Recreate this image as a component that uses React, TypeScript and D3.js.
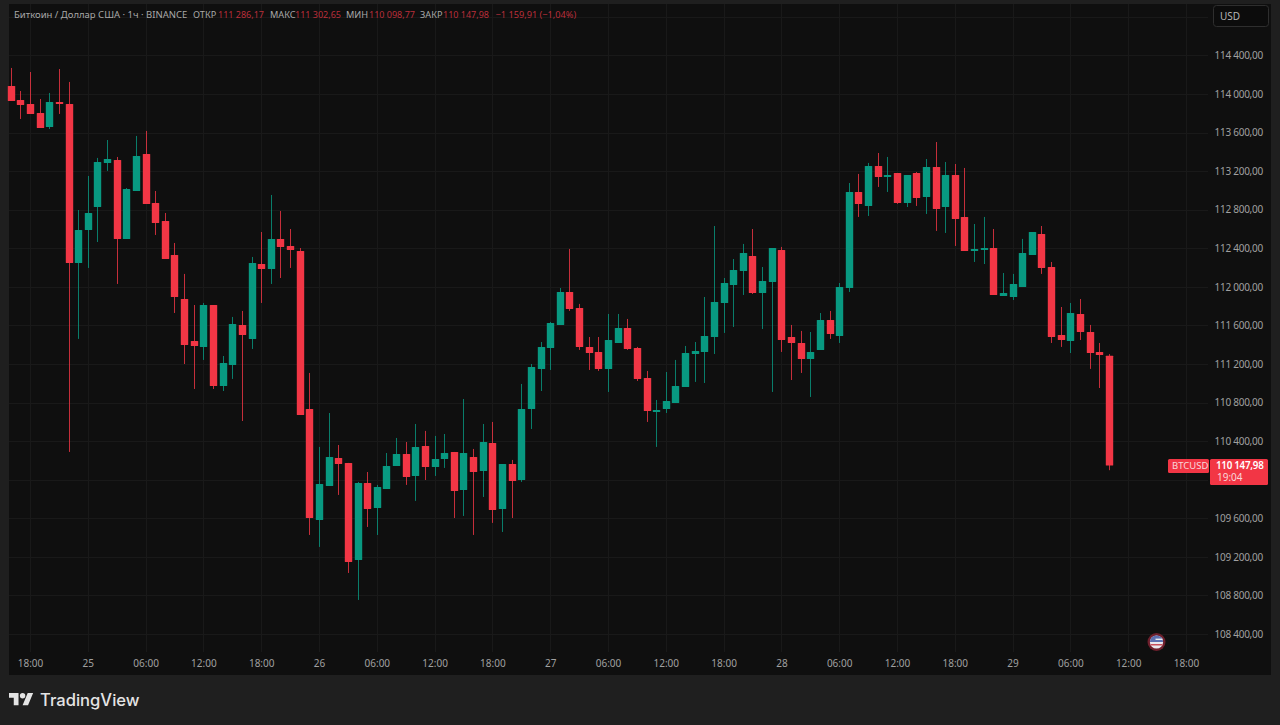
import React, { useEffect, useRef } from 'react';
import * as d3 from 'd3';

const opens = [
  114083, 113938, 113897, 113803, 113658, 113917, 113897, 112248, 112590, 112828,
  113285, 113316, 112497, 112994, 113378, 112870, 112683, 112331, 111874, 111439,
  111377, 111812, 110972, 111190, 111605, 111460, 112237, 112185, 112497, 112424,
  112372, 110734, 109583, 109935, 110226, 110174, 109168, 109966, 109707, 109904,
  110143, 110267, 110039, 110350, 110132, 110215, 110288, 109894, 110236, 110091,
  110381, 109697, 110163, 109997, 110734, 111149, 111366, 111605, 111947, 111781,
  111377, 111325, 111149, 111418, 111574, 111366, 111055, 110703, 110734, 110796,
  110962, 111304, 111325, 111480, 111833, 112019, 112165, 112320, 111937, 112051,
  112383, 111480, 111418, 111252, 111346, 111657, 111491, 111988, 112984, 112839,
  113254, 113140, 113181, 112870, 113181, 112932, 113243, 112828, 113160, 112725,
  112372, 112383, 112403, 111905, 111895, 111999, 112331, 112548, 112206, 111501,
  111439, 111719, 111532, 111325, 111286.17,
];
const highs = [
  114270, 114031, 114228, 113948, 114011, 114259, 114125, 112797, 113150, 113337,
  113523, 113347, 113025, 113565, 113617, 112994, 112766, 112455, 112134, 111812,
  111833, 111812, 111283, 111688, 111750, 112310, 112569, 112953, 112787, 112600,
  112403, 111107, 110340, 110692, 110360, 110174, 109977, 110080, 109946, 110277,
  110433, 110391, 110578, 110506, 110454, 110474, 110288, 110837, 110319, 110578,
  110599, 110163, 110205, 110993, 111200, 111428, 111636, 111988, 112393, 111823,
  111480, 111480, 111719, 111719, 111667, 111377, 111128, 110827, 111117, 111242,
  111387, 111428, 111895, 112631, 112092, 112289, 112445, 112600, 112206, 112403,
  112414, 111605, 111543, 111532, 111729, 111750, 112040, 113077, 113171, 113285,
  113388, 113347, 113181, 113160, 113191, 113326, 113502, 113295, 113274, 113233,
  112652, 112725, 112600, 112144, 112134, 112497, 112569, 112631, 112258, 111791,
  111833, 111874, 111605, 111418, 111302.65,
];
const lows = [
  113928, 113741, 113793, 113648, 113637, 113793, 110288, 111460, 112196, 112465,
  113202, 112030, 112497, 112994, 112860, 112538, 112289, 111729, 111200, 110941,
  111242, 110941, 110920, 111045, 110609, 111356, 111833, 112030, 112092, 112196,
  110671, 109427, 109303, 109935, 109842, 109033, 108753, 109510, 109427, 109904,
  110143, 109946, 109780, 109997, 110039, 110122, 109603, 109624, 109427, 109821,
  109552, 109458, 109603, 109977, 110526, 110920, 111138, 111605, 111750, 111346,
  111138, 111128, 110910, 111418, 111346, 111024, 110599, 110340, 110692, 110796,
  110962, 111014, 111003, 111304, 111522, 111584, 111916, 111926, 111563, 110910,
  111325, 111034, 111107, 110858, 111346, 111460, 111418, 111947, 112725, 112735,
  113036, 112984, 112860, 112828, 112839, 112756, 112580, 112559, 112424, 112372,
  112258, 112237, 111916, 111905, 111864, 111999, 112331, 112134, 111418, 111377,
  111314, 111449, 111149, 110951, 110098.77,
];
const closes = [
  113928, 113886, 113793, 113648, 113917, 113897, 112248, 112590, 112766, 113295,
  113326, 112497, 113015, 113357, 112860, 112663, 112289, 111895, 111397, 111387,
  111812, 110972, 111211, 111615, 111501, 112248, 112185, 112497, 112414, 112383,
  110671, 109603, 109956, 110236, 110163, 109147, 109966, 109697, 109925, 110143,
  110267, 110028, 110340, 110132, 110215, 110277, 109883, 110277, 110080, 110391,
  109686, 110163, 109987, 110734, 111169, 111377, 111626, 111947, 111771, 111377,
  111314, 111149, 111449, 111574, 111356, 111045, 110713, 110723, 110817, 110972,
  111314, 111335, 111491, 111843, 112040, 112175, 112351, 111937, 112061, 112403,
  111449, 111418, 111252, 111325, 111657, 111512, 111999, 112984, 112860, 113254,
  113140, 113160, 112870, 113160, 112922, 113243, 112808, 113160, 112704, 112372,
  112393, 112403, 111916, 111937, 112030, 112351, 112569, 112196, 111480, 111449,
  111729, 111532, 111314, 111294, 110147.98,
];

const priceTicks = [
  108400, 108800, 109200, 109600, 110400, 110800, 111200, 111600, 112000,
  112400, 112800, 113200, 113600, 114000, 114400,
];
const gridPrices = [...priceTicks, 110000, 114800];
const timeLabels = [
  '18:00', '25', '06:00', '12:00', '18:00', '26', '06:00', '12:00', '18:00', '27',
  '06:00', '12:00', '18:00', '28', '06:00', '12:00', '18:00', '29', '06:00', '12:00', '18:00',
];
const timeTicks = timeLabels.map((_, i) => 2 + i * 6);

const legendTitle = 'Биткоин / Доллар США · 1ч · BINANCE';
const legendItems = [
  { label: 'ОТКР', value: '111 286,17' },
  { label: 'МАКС', value: '111 302,65' },
  { label: 'МИН', value: '110 098,77' },
  { label: 'ЗАКР', value: '110 147,98' },
];
const legendChange = '−1 159,91 (−1,04%)';

const UP = '#089981';
const DOWN = '#f23645';
const FONT = '"Noto Sans", "Open Sans", sans-serif';

const App: React.FC = () => {
  const svgRef = useRef<SVGSVGElement | null>(null);

  useEffect(() => {
    if (!svgRef.current) return;
    const svg = d3.select(svgRef.current);
    svg.selectAll('*').remove();

    const width = 1280;
    const height = 725;
    const panel = { left: 9, top: 4, right: 1271, bottom: 675 };
    const plotRight = 1208;

    const x = d3.scaleLinear().domain([0, 114]).range([10.73, 1108.9]);
    const y = d3.scaleLinear().domain([108400, 114000]).range([634, 94]);
    const fmt = d3.formatLocale({
      decimal: ',',
      thousands: '\u2005',
      grouping: [3],
      currency: ['', ''],
    }).format(',.2f');

    svg.attr('width', width).attr('height', height).attr('viewBox', `0 0 ${width} ${height}`);

    svg.append('rect').attr('width', width).attr('height', height).attr('fill', '#1f1f1f');
    svg
      .append('rect')
      .attr('x', panel.left)
      .attr('y', panel.top)
      .attr('width', panel.right - panel.left)
      .attr('height', panel.bottom - panel.top)
      .attr('fill', '#0f0f0f');

    // grid
    const grid = svg.append('g').attr('stroke', '#191919').attr('stroke-width', 1);
    grid
      .selectAll('line.h')
      .data(gridPrices)
      .enter()
      .append('line')
      .attr('x1', panel.left)
      .attr('x2', plotRight)
      .attr('y1', (d) => Math.round(y(d)) + 0.5)
      .attr('y2', (d) => Math.round(y(d)) + 0.5);
    grid
      .selectAll('line.v')
      .data(timeTicks)
      .enter()
      .append('line')
      .attr('y1', panel.top)
      .attr('y2', 652)
      .attr('x1', (d) => Math.round(x(d)) + 0.5)
      .attr('x2', (d) => Math.round(x(d)) + 0.5);

    // candles
    const candles = d3.range(opens.length);
    const colorOf = (i: number) => (closes[i] >= opens[i] ? UP : DOWN);
    const g = svg.append('g');
    g.selectAll('line')
      .data(candles)
      .enter()
      .append('line')
      .attr('x1', (i) => Math.round(x(i)) + 0.5)
      .attr('x2', (i) => Math.round(x(i)) + 0.5)
      .attr('y1', (i) => y(highs[i]))
      .attr('y2', (i) => y(lows[i]))
      .attr('stroke', colorOf)
      .attr('stroke-opacity', 0.8)
      .attr('stroke-width', 1);
    g.selectAll('rect')
      .data(candles)
      .enter()
      .append('rect')
      .attr('x', (i) => Math.round(x(i)) + 0.5 - 3.7)
      .attr('width', 7.4)
      .attr('y', (i) => y(Math.max(opens[i], closes[i])))
      .attr('height', (i) => Math.max(2, Math.abs(y(opens[i]) - y(closes[i]))))
      .attr('fill', colorOf)
      .attr('rx', 0.5);

    // price axis
    const yAxis = d3
      .axisLeft(y)
      .tickValues(priceTicks)
      .tickSize(0)
      .tickPadding(0)
      .tickFormat((d) => fmt(d as number));
    const yG = svg.append('g').attr('transform', 'translate(1263,0)').call(yAxis);
    yG.select('.domain').remove();
    yG.selectAll('text')
      .attr('fill', '#a0a0a0')
      .style('font-family', FONT)
      .style('font-size', '10px')
      .style('letter-spacing', '-0.25px');

    // time axis
    const xAxis = d3
      .axisBottom(x)
      .tickValues(timeTicks)
      .tickSize(0)
      .tickPadding(0)
      .tickFormat((_, i) => timeLabels[i]);
    const xG = svg.append('g').attr('transform', 'translate(0,660)').call(xAxis);
    xG.select('.domain').remove();
    xG.selectAll('text')
      .attr('fill', '#a0a0a0')
      .style('font-family', FONT)
      .style('font-size', '10px');

    // legend
    const legend = svg
      .append('g')
      .style('font-family', FONT)
      .style('font-size', '9.5px');
    legend.append('text').attr('x', 14).attr('y', 18).attr('fill', '#a8a8a8').text(legendTitle);
    const labelX = [193, 270, 346, 420];
    const valueX = [218, 295, 369, 443];
    legendItems.forEach((d, i) => {
      legend
        .append('text')
        .attr('x', labelX[i])
        .attr('y', 18)
        .attr('fill', '#a8a8a8')
        .style('font-size', '9.2px')
        .text(d.label);
      legend
        .append('text')
        .attr('x', valueX[i])
        .attr('y', 18)
        .attr('fill', '#b92e3a')
        .style('font-size', '9px')
        .text(d.value);
    });
    legend
      .append('text')
      .attr('x', 495.5)
      .attr('y', 18)
      .attr('fill', '#b92e3a')
      .style('font-size', '9.2px')
      .text(legendChange);

    // USD button
    svg
      .append('rect')
      .attr('x', 1213.5)
      .attr('y', 5.5)
      .attr('width', 55)
      .attr('height', 21)
      .attr('rx', 3)
      .attr('fill', '#0c0c0c')
      .attr('stroke', '#2e2e2e');
    svg
      .append('text')
      .attr('x', 1220)
      .attr('y', 20)
      .attr('fill', '#b5b5b5')
      .style('font-family', FONT)
      .style('font-size', '10px')
      .text('USD');

    // last price tags
    const last = y(closes[closes.length - 1]);
    const tags = svg.append('g').style('font-family', FONT);
    tags
      .append('rect')
      .attr('x', 1168)
      .attr('y', last - 6.5)
      .attr('width', 41)
      .attr('height', 14)
      .attr('rx', 1.5)
      .attr('fill', DOWN);
    tags
      .append('rect')
      .attr('x', 1210)
      .attr('y', last - 6.5)
      .attr('width', 58)
      .attr('height', 26)
      .attr('rx', 1.5)
      .attr('fill', DOWN);
    tags
      .append('text')
      .attr('x', 1172)
      .attr('y', last + 4)
      .attr('fill', '#f8d6d9')
      .style('font-size', '9.5px')
      .text('BTCUSD');
    tags
      .append('text')
      .attr('x', 1263.5)
      .attr('y', last + 4)
      .attr('text-anchor', 'end')
      .attr('fill', '#ffffff')
      .style('font-size', '9.8px')
      .style('font-weight', 600)
      .style('letter-spacing', '-0.25px')
      .text(fmt(closes[closes.length - 1]));
    tags
      .append('text')
      .attr('x', 1217)
      .attr('y', last + 16)
      .attr('fill', '#f8d6d9')
      .style('font-size', '10px')
      .text('19:04');

    // economic event marker
    const marker = svg.append('g').attr('transform', 'translate(1156.5,642)');
    marker.append('circle').attr('r', 9).attr('fill', '#6d1f2c');
    marker.append('circle').attr('r', 6.6).attr('fill', '#e8e8ee');
    marker
      .append('path')
      .attr('d', d3.arc()({ innerRadius: 0, outerRadius: 6.6, startAngle: -Math.PI / 2, endAngle: Math.PI / 2 }) as string)
      .attr('fill', '#5b6fb0');
    marker.append('rect').attr('x', -1).attr('y', -3.4).attr('width', 7).attr('height', 1.4).attr('fill', '#e8e8ee');
    marker.append('rect').attr('x', -6).attr('y', 2).attr('width', 12).attr('height', 1.5).attr('fill', '#c8505c');

    // footer logo
    svg
      .append('path')
      .attr('transform', 'translate(9,690.3) scale(0.68)')
      .attr('d', 'M14 22H7V11H0V4h14v18zM28 22h-8l7.5-18h8L28 22z')
      .attr('fill', '#e4e4e4');
    svg
      .append('circle')
      .attr('transform', 'translate(9,690.3) scale(0.68)')
      .attr('cx', 20)
      .attr('cy', 8)
      .attr('r', 4)
      .attr('fill', '#e4e4e4');
    svg
      .append('text')
      .attr('x', 40)
      .attr('y', 706)
      .attr('fill', '#e4e4e4')
      .style('font-family', '"Inter", "Noto Sans", sans-serif')
      .style('font-size', '16.6px')
      .style('font-weight', 500)
      .text('TradingView');
  }, []);

  return (
    <div>
      <style>{'body{margin:0;background:#1f1f1f}'}</style>
      <svg ref={svgRef} style={{ display: 'block' }}></svg>
    </div>
  );
};

export default App;
